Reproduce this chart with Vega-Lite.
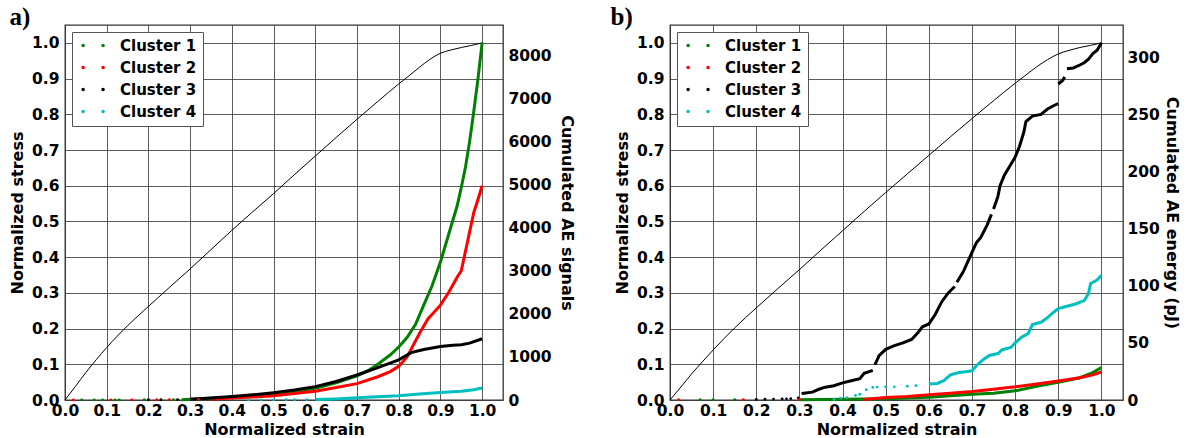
{
  "$schema": "https://vega.github.io/schema/vega-lite/v6.json",
  "padding": {"left": 8, "top": 4, "right": 0, "bottom": 0},
  "background": "white",
  "config": {
    "view": {"stroke": "#333", "strokeWidth": 1.3},
    "axis": {
      "labelFont": "DejaVu Sans", "labelFontWeight": "bold", "labelFontSize": 15.5, "labelColor": "black",
      "titleFont": "DejaVu Sans", "titleFontWeight": "bold", "titleFontSize": 16, "titleColor": "black",
      "ticks": false, "domain": false, "gridColor": "#333", "gridWidth": 0.8, "labelFlush": false, "labelOverlap": false
    },
    "legend": {
      "orient": "top-left", "offset": 7, "padding": 6, "rowPadding": 6, "labelOffset": 27,
      "labelFont": "DejaVu Sans", "labelFontWeight": "bold", "labelFontSize": 15, "labelColor": "black",
      "symbolType": "M-0.59,0a0.25,0.25 0 1,0 0.5,0a0.25,0.25 0 1,0 -0.5,0Z M2.26,0a0.25,0.25 0 1,0 0.5,0a0.25,0.25 0 1,0 -0.5,0Z",
      "symbolSize": 196, "symbolStrokeWidth": 0,
      "strokeColor": "#555", "fillColor": "white", "cornerRadius": 0
    }
  },
  "datasets": {
    "stressA": [
      {"strain": 0, "stress": 0}, {"strain": 0.025, "stress": 0.038}, {"strain": 0.05, "stress": 0.077}, {"strain": 0.075, "stress": 0.113},
      {"strain": 0.1, "stress": 0.147}, {"strain": 0.15, "stress": 0.208}, {"strain": 0.2, "stress": 0.262}, {"strain": 0.25, "stress": 0.315},
      {"strain": 0.3, "stress": 0.367}, {"strain": 0.35, "stress": 0.421}, {"strain": 0.4, "stress": 0.475}, {"strain": 0.45, "stress": 0.527},
      {"strain": 0.5, "stress": 0.578}, {"strain": 0.55, "stress": 0.631}, {"strain": 0.6, "stress": 0.683}, {"strain": 0.65, "stress": 0.735},
      {"strain": 0.7, "stress": 0.786}, {"strain": 0.75, "stress": 0.836}, {"strain": 0.8, "stress": 0.885}, {"strain": 0.825, "stress": 0.908},
      {"strain": 0.85, "stress": 0.932}, {"strain": 0.875, "stress": 0.954}, {"strain": 0.9, "stress": 0.971}, {"strain": 0.925, "stress": 0.98},
      {"strain": 0.95, "stress": 0.987}, {"strain": 0.975, "stress": 0.993}, {"strain": 1.0, "stress": 1.0}
    ],
    "stressB": [
      {"strain": 0, "stress": 0}, {"strain": 0.025, "stress": 0.036}, {"strain": 0.05, "stress": 0.073}, {"strain": 0.075, "stress": 0.107},
      {"strain": 0.1, "stress": 0.14}, {"strain": 0.15, "stress": 0.202}, {"strain": 0.2, "stress": 0.258}, {"strain": 0.25, "stress": 0.312},
      {"strain": 0.3, "stress": 0.365}, {"strain": 0.35, "stress": 0.42}, {"strain": 0.4, "stress": 0.474}, {"strain": 0.45, "stress": 0.528},
      {"strain": 0.5, "stress": 0.581}, {"strain": 0.55, "stress": 0.633}, {"strain": 0.6, "stress": 0.685}, {"strain": 0.65, "stress": 0.737},
      {"strain": 0.7, "stress": 0.788}, {"strain": 0.75, "stress": 0.838}, {"strain": 0.8, "stress": 0.887}, {"strain": 0.825, "stress": 0.91},
      {"strain": 0.85, "stress": 0.933}, {"strain": 0.875, "stress": 0.953}, {"strain": 0.9, "stress": 0.969}, {"strain": 0.925, "stress": 0.979},
      {"strain": 0.95, "stress": 0.987}, {"strain": 0.975, "stress": 0.993}, {"strain": 1.0, "stress": 1.0}
    ],
    "clA": [
      {"strain": 0.28, "value": 5, "cluster": "Cluster 1", "seg": 1}, {"strain": 0.3, "value": 20, "cluster": "Cluster 1", "seg": 1},
      {"strain": 0.35, "value": 40, "cluster": "Cluster 1", "seg": 1}, {"strain": 0.4, "value": 65, "cluster": "Cluster 1", "seg": 1},
      {"strain": 0.45, "value": 100, "cluster": "Cluster 1", "seg": 1}, {"strain": 0.5, "value": 135, "cluster": "Cluster 1", "seg": 1},
      {"strain": 0.55, "value": 190, "cluster": "Cluster 1", "seg": 1}, {"strain": 0.6, "value": 270, "cluster": "Cluster 1", "seg": 1},
      {"strain": 0.65, "value": 400, "cluster": "Cluster 1", "seg": 1}, {"strain": 0.7, "value": 560, "cluster": "Cluster 1", "seg": 1},
      {"strain": 0.73, "value": 700, "cluster": "Cluster 1", "seg": 1}, {"strain": 0.75, "value": 830, "cluster": "Cluster 1", "seg": 1},
      {"strain": 0.78, "value": 1050, "cluster": "Cluster 1", "seg": 1}, {"strain": 0.8, "value": 1230, "cluster": "Cluster 1", "seg": 1},
      {"strain": 0.82, "value": 1450, "cluster": "Cluster 1", "seg": 1}, {"strain": 0.84, "value": 1750, "cluster": "Cluster 1", "seg": 1},
      {"strain": 0.86, "value": 2200, "cluster": "Cluster 1", "seg": 1}, {"strain": 0.88, "value": 2650, "cluster": "Cluster 1", "seg": 1},
      {"strain": 0.9, "value": 3200, "cluster": "Cluster 1", "seg": 1}, {"strain": 0.92, "value": 3850, "cluster": "Cluster 1", "seg": 1},
      {"strain": 0.94, "value": 4500, "cluster": "Cluster 1", "seg": 1}, {"strain": 0.95, "value": 4930, "cluster": "Cluster 1", "seg": 1},
      {"strain": 0.96, "value": 5400, "cluster": "Cluster 1", "seg": 1}, {"strain": 0.97, "value": 6000, "cluster": "Cluster 1", "seg": 1},
      {"strain": 0.98, "value": 6700, "cluster": "Cluster 1", "seg": 1}, {"strain": 0.99, "value": 7450, "cluster": "Cluster 1", "seg": 1},
      {"strain": 1.0, "value": 8290, "cluster": "Cluster 1", "seg": 1},
      {"strain": 0.35, "value": 20, "cluster": "Cluster 2", "seg": 1}, {"strain": 0.4, "value": 45, "cluster": "Cluster 2", "seg": 1},
      {"strain": 0.45, "value": 70, "cluster": "Cluster 2", "seg": 1}, {"strain": 0.5, "value": 100, "cluster": "Cluster 2", "seg": 1},
      {"strain": 0.55, "value": 150, "cluster": "Cluster 2", "seg": 1}, {"strain": 0.6, "value": 205, "cluster": "Cluster 2", "seg": 1},
      {"strain": 0.65, "value": 290, "cluster": "Cluster 2", "seg": 1}, {"strain": 0.7, "value": 380, "cluster": "Cluster 2", "seg": 1},
      {"strain": 0.75, "value": 540, "cluster": "Cluster 2", "seg": 1}, {"strain": 0.78, "value": 660, "cluster": "Cluster 2", "seg": 1},
      {"strain": 0.8, "value": 780, "cluster": "Cluster 2", "seg": 1}, {"strain": 0.82, "value": 1000, "cluster": "Cluster 2", "seg": 1},
      {"strain": 0.85, "value": 1550, "cluster": "Cluster 2", "seg": 1}, {"strain": 0.87, "value": 1880, "cluster": "Cluster 2", "seg": 1},
      {"strain": 0.9, "value": 2200, "cluster": "Cluster 2", "seg": 1}, {"strain": 0.92, "value": 2500, "cluster": "Cluster 2", "seg": 1},
      {"strain": 0.94, "value": 2850, "cluster": "Cluster 2", "seg": 1}, {"strain": 0.95, "value": 3000, "cluster": "Cluster 2", "seg": 1},
      {"strain": 0.96, "value": 3450, "cluster": "Cluster 2", "seg": 1}, {"strain": 0.97, "value": 3900, "cluster": "Cluster 2", "seg": 1},
      {"strain": 0.98, "value": 4350, "cluster": "Cluster 2", "seg": 1}, {"strain": 0.99, "value": 4650, "cluster": "Cluster 2", "seg": 1},
      {"strain": 1.0, "value": 4970, "cluster": "Cluster 2", "seg": 1},
      {"strain": 0.3, "value": 20, "cluster": "Cluster 3", "seg": 1}, {"strain": 0.35, "value": 45, "cluster": "Cluster 3", "seg": 1},
      {"strain": 0.4, "value": 80, "cluster": "Cluster 3", "seg": 1}, {"strain": 0.45, "value": 120, "cluster": "Cluster 3", "seg": 1},
      {"strain": 0.5, "value": 170, "cluster": "Cluster 3", "seg": 1}, {"strain": 0.55, "value": 230, "cluster": "Cluster 3", "seg": 1},
      {"strain": 0.6, "value": 310, "cluster": "Cluster 3", "seg": 1}, {"strain": 0.65, "value": 430, "cluster": "Cluster 3", "seg": 1},
      {"strain": 0.7, "value": 580, "cluster": "Cluster 3", "seg": 1}, {"strain": 0.75, "value": 750, "cluster": "Cluster 3", "seg": 1},
      {"strain": 0.8, "value": 930, "cluster": "Cluster 3", "seg": 1}, {"strain": 0.83, "value": 1100, "cluster": "Cluster 3", "seg": 1},
      {"strain": 0.86, "value": 1170, "cluster": "Cluster 3", "seg": 1}, {"strain": 0.9, "value": 1240, "cluster": "Cluster 3", "seg": 1},
      {"strain": 0.93, "value": 1270, "cluster": "Cluster 3", "seg": 1}, {"strain": 0.95, "value": 1280, "cluster": "Cluster 3", "seg": 1},
      {"strain": 0.97, "value": 1320, "cluster": "Cluster 3", "seg": 1}, {"strain": 1.0, "value": 1420, "cluster": "Cluster 3", "seg": 1},
      {"strain": 0.6, "value": 10, "cluster": "Cluster 4", "seg": 1}, {"strain": 0.65, "value": 25, "cluster": "Cluster 4", "seg": 1},
      {"strain": 0.7, "value": 50, "cluster": "Cluster 4", "seg": 1}, {"strain": 0.75, "value": 75, "cluster": "Cluster 4", "seg": 1},
      {"strain": 0.8, "value": 100, "cluster": "Cluster 4", "seg": 1}, {"strain": 0.85, "value": 140, "cluster": "Cluster 4", "seg": 1},
      {"strain": 0.9, "value": 175, "cluster": "Cluster 4", "seg": 1}, {"strain": 0.95, "value": 205, "cluster": "Cluster 4", "seg": 1},
      {"strain": 0.98, "value": 240, "cluster": "Cluster 4", "seg": 1}, {"strain": 1.0, "value": 280, "cluster": "Cluster 4", "seg": 1}
    ],
    "dotA": [
      {"strain": 0.04, "value": 3, "cluster": "Cluster 1"}, {"strain": 0.07, "value": 3, "cluster": "Cluster 1"}, {"strain": 0.09, "value": 3, "cluster": "Cluster 1"},
      {"strain": 0.12, "value": 4, "cluster": "Cluster 1"}, {"strain": 0.13, "value": 4, "cluster": "Cluster 1"}, {"strain": 0.19, "value": 5, "cluster": "Cluster 1"},
      {"strain": 0.26, "value": 8, "cluster": "Cluster 1"},
      {"strain": 0.02, "value": 2, "cluster": "Cluster 2"}, {"strain": 0.11, "value": 3, "cluster": "Cluster 2"}, {"strain": 0.16, "value": 4, "cluster": "Cluster 2"},
      {"strain": 0.2, "value": 5, "cluster": "Cluster 2"}, {"strain": 0.22, "value": 6, "cluster": "Cluster 2"}, {"strain": 0.25, "value": 8, "cluster": "Cluster 2"},
      {"strain": 0.32, "value": 15, "cluster": "Cluster 2"},
      {"strain": 0.2, "value": 3, "cluster": "Cluster 3"}, {"strain": 0.23, "value": 5, "cluster": "Cluster 3"}, {"strain": 0.27, "value": 10, "cluster": "Cluster 3"},
      {"strain": 0.44, "value": 3, "cluster": "Cluster 4"}, {"strain": 0.47, "value": 3, "cluster": "Cluster 4"}, {"strain": 0.5, "value": 4, "cluster": "Cluster 4"},
      {"strain": 0.53, "value": 5, "cluster": "Cluster 4"}, {"strain": 0.55, "value": 5, "cluster": "Cluster 4"}, {"strain": 0.58, "value": 8, "cluster": "Cluster 4"}
    ],
    "clB": [
      {"strain": 0.3, "value": 0.3, "cluster": "Cluster 1", "seg": 1}, {"strain": 0.4, "value": 0.6, "cluster": "Cluster 1", "seg": 1},
      {"strain": 0.5, "value": 1, "cluster": "Cluster 1", "seg": 1}, {"strain": 0.6, "value": 2.5, "cluster": "Cluster 1", "seg": 1},
      {"strain": 0.7, "value": 5, "cluster": "Cluster 1", "seg": 1}, {"strain": 0.75, "value": 6, "cluster": "Cluster 1", "seg": 1},
      {"strain": 0.8, "value": 8, "cluster": "Cluster 1", "seg": 1}, {"strain": 0.85, "value": 12, "cluster": "Cluster 1", "seg": 1},
      {"strain": 0.9, "value": 15.5, "cluster": "Cluster 1", "seg": 1}, {"strain": 0.95, "value": 19.5, "cluster": "Cluster 1", "seg": 1},
      {"strain": 0.98, "value": 24, "cluster": "Cluster 1", "seg": 1}, {"strain": 1.0, "value": 28.5, "cluster": "Cluster 1", "seg": 1},
      {"strain": 0.45, "value": 0.5, "cluster": "Cluster 2", "seg": 1}, {"strain": 0.48, "value": 1.5, "cluster": "Cluster 2", "seg": 1},
      {"strain": 0.5, "value": 2.2, "cluster": "Cluster 2", "seg": 1}, {"strain": 0.55, "value": 3, "cluster": "Cluster 2", "seg": 1},
      {"strain": 0.6, "value": 4.5, "cluster": "Cluster 2", "seg": 1}, {"strain": 0.65, "value": 6, "cluster": "Cluster 2", "seg": 1},
      {"strain": 0.7, "value": 7.5, "cluster": "Cluster 2", "seg": 1}, {"strain": 0.75, "value": 9.5, "cluster": "Cluster 2", "seg": 1},
      {"strain": 0.8, "value": 11.5, "cluster": "Cluster 2", "seg": 1}, {"strain": 0.85, "value": 14, "cluster": "Cluster 2", "seg": 1},
      {"strain": 0.9, "value": 16.7, "cluster": "Cluster 2", "seg": 1}, {"strain": 0.95, "value": 19.5, "cluster": "Cluster 2", "seg": 1},
      {"strain": 0.98, "value": 22, "cluster": "Cluster 2", "seg": 1}, {"strain": 1.0, "value": 24.5, "cluster": "Cluster 2", "seg": 1},
      {"strain": 0.295, "value": 1.2, "cluster": "Cluster 3", "seg": 1}, {"strain": 0.3, "value": 2.2, "cluster": "Cluster 3", "seg": 1},
      {"strain": 0.305, "value": 5.6, "cluster": "Cluster 3", "seg": 2}, {"strain": 0.33, "value": 6.9, "cluster": "Cluster 3", "seg": 2},
      {"strain": 0.345, "value": 9.4, "cluster": "Cluster 3", "seg": 2}, {"strain": 0.36, "value": 11.2, "cluster": "Cluster 3", "seg": 2},
      {"strain": 0.38, "value": 12.5, "cluster": "Cluster 3", "seg": 2}, {"strain": 0.4, "value": 15, "cluster": "Cluster 3", "seg": 2},
      {"strain": 0.42, "value": 16.9, "cluster": "Cluster 3", "seg": 2}, {"strain": 0.44, "value": 18.7, "cluster": "Cluster 3", "seg": 2},
      {"strain": 0.45, "value": 23.4, "cluster": "Cluster 3", "seg": 2}, {"strain": 0.47, "value": 25.9, "cluster": "Cluster 3", "seg": 2},
      {"strain": 0.475, "value": 31, "cluster": "Cluster 3", "seg": 3}, {"strain": 0.485, "value": 39, "cluster": "Cluster 3", "seg": 3},
      {"strain": 0.5, "value": 44.3, "cluster": "Cluster 3", "seg": 3}, {"strain": 0.52, "value": 47.5, "cluster": "Cluster 3", "seg": 3},
      {"strain": 0.54, "value": 50, "cluster": "Cluster 3", "seg": 3}, {"strain": 0.56, "value": 53, "cluster": "Cluster 3", "seg": 3},
      {"strain": 0.575, "value": 59, "cluster": "Cluster 3", "seg": 3}, {"strain": 0.585, "value": 64, "cluster": "Cluster 3", "seg": 3},
      {"strain": 0.6, "value": 66.5, "cluster": "Cluster 3", "seg": 3}, {"strain": 0.615, "value": 75, "cluster": "Cluster 3", "seg": 3},
      {"strain": 0.63, "value": 86, "cluster": "Cluster 3", "seg": 3}, {"strain": 0.645, "value": 93.7, "cluster": "Cluster 3", "seg": 3},
      {"strain": 0.66, "value": 99.3, "cluster": "Cluster 3", "seg": 3},
      {"strain": 0.665, "value": 103, "cluster": "Cluster 3", "seg": 4}, {"strain": 0.68, "value": 112.4, "cluster": "Cluster 3", "seg": 4},
      {"strain": 0.695, "value": 125, "cluster": "Cluster 3", "seg": 4}, {"strain": 0.71, "value": 137.4, "cluster": "Cluster 3", "seg": 4},
      {"strain": 0.72, "value": 142, "cluster": "Cluster 3", "seg": 4}, {"strain": 0.735, "value": 153, "cluster": "Cluster 3", "seg": 4},
      {"strain": 0.745, "value": 162.4, "cluster": "Cluster 3", "seg": 4},
      {"strain": 0.75, "value": 167, "cluster": "Cluster 3", "seg": 5}, {"strain": 0.76, "value": 178, "cluster": "Cluster 3", "seg": 5},
      {"strain": 0.765, "value": 187.4, "cluster": "Cluster 3", "seg": 5}, {"strain": 0.775, "value": 196.7, "cluster": "Cluster 3", "seg": 5},
      {"strain": 0.785, "value": 203, "cluster": "Cluster 3", "seg": 5}, {"strain": 0.8, "value": 212.4, "cluster": "Cluster 3", "seg": 5},
      {"strain": 0.81, "value": 221.7, "cluster": "Cluster 3", "seg": 5}, {"strain": 0.82, "value": 234, "cluster": "Cluster 3", "seg": 5},
      {"strain": 0.825, "value": 243.6, "cluster": "Cluster 3", "seg": 5}, {"strain": 0.84, "value": 248.3, "cluster": "Cluster 3", "seg": 5},
      {"strain": 0.86, "value": 249.8, "cluster": "Cluster 3", "seg": 5}, {"strain": 0.875, "value": 254.5, "cluster": "Cluster 3", "seg": 5},
      {"strain": 0.89, "value": 257.6, "cluster": "Cluster 3", "seg": 5}, {"strain": 0.9, "value": 259.2, "cluster": "Cluster 3", "seg": 5},
      {"strain": 0.9, "value": 276.4, "cluster": "Cluster 3", "seg": 6}, {"strain": 0.91, "value": 279.5, "cluster": "Cluster 3", "seg": 6},
      {"strain": 0.915, "value": 282.6, "cluster": "Cluster 3", "seg": 6},
      {"strain": 0.92, "value": 289.8, "cluster": "Cluster 3", "seg": 7}, {"strain": 0.935, "value": 290.4, "cluster": "Cluster 3", "seg": 7},
      {"strain": 0.95, "value": 293, "cluster": "Cluster 3", "seg": 7}, {"strain": 0.96, "value": 295, "cluster": "Cluster 3", "seg": 7},
      {"strain": 0.97, "value": 298, "cluster": "Cluster 3", "seg": 7}, {"strain": 0.98, "value": 303, "cluster": "Cluster 3", "seg": 7},
      {"strain": 0.99, "value": 306, "cluster": "Cluster 3", "seg": 7}, {"strain": 1.0, "value": 312.3, "cluster": "Cluster 3", "seg": 7},
      {"strain": 0.6, "value": 14, "cluster": "Cluster 4", "seg": 1}, {"strain": 0.62, "value": 14.5, "cluster": "Cluster 4", "seg": 1},
      {"strain": 0.635, "value": 17, "cluster": "Cluster 4", "seg": 1}, {"strain": 0.65, "value": 22, "cluster": "Cluster 4", "seg": 1},
      {"strain": 0.67, "value": 24, "cluster": "Cluster 4", "seg": 1}, {"strain": 0.69, "value": 25, "cluster": "Cluster 4", "seg": 1},
      {"strain": 0.7, "value": 25.6, "cluster": "Cluster 4", "seg": 1}, {"strain": 0.71, "value": 30, "cluster": "Cluster 4", "seg": 1},
      {"strain": 0.725, "value": 35, "cluster": "Cluster 4", "seg": 1}, {"strain": 0.74, "value": 39, "cluster": "Cluster 4", "seg": 1},
      {"strain": 0.76, "value": 40.6, "cluster": "Cluster 4", "seg": 1}, {"strain": 0.77, "value": 44, "cluster": "Cluster 4", "seg": 1},
      {"strain": 0.79, "value": 46, "cluster": "Cluster 4", "seg": 1}, {"strain": 0.8, "value": 50, "cluster": "Cluster 4", "seg": 1},
      {"strain": 0.815, "value": 55, "cluster": "Cluster 4", "seg": 1}, {"strain": 0.83, "value": 58, "cluster": "Cluster 4", "seg": 1},
      {"strain": 0.84, "value": 66, "cluster": "Cluster 4", "seg": 1}, {"strain": 0.86, "value": 68, "cluster": "Cluster 4", "seg": 1},
      {"strain": 0.875, "value": 72, "cluster": "Cluster 4", "seg": 1}, {"strain": 0.89, "value": 77, "cluster": "Cluster 4", "seg": 1},
      {"strain": 0.9, "value": 80, "cluster": "Cluster 4", "seg": 1}, {"strain": 0.92, "value": 82, "cluster": "Cluster 4", "seg": 1},
      {"strain": 0.94, "value": 84, "cluster": "Cluster 4", "seg": 1}, {"strain": 0.96, "value": 87, "cluster": "Cluster 4", "seg": 1},
      {"strain": 0.97, "value": 93, "cluster": "Cluster 4", "seg": 1}, {"strain": 0.975, "value": 102, "cluster": "Cluster 4", "seg": 1},
      {"strain": 0.99, "value": 105, "cluster": "Cluster 4", "seg": 1}, {"strain": 1.0, "value": 109, "cluster": "Cluster 4", "seg": 1}
    ],
    "dotB": [
      {"strain": 0.07, "value": 0.3, "cluster": "Cluster 1"}, {"strain": 0.1, "value": 0.3, "cluster": "Cluster 1"}, {"strain": 0.15, "value": 0.4, "cluster": "Cluster 1"},
      {"strain": 0.02, "value": 0.3, "cluster": "Cluster 2"}, {"strain": 0.17, "value": 0.4, "cluster": "Cluster 2"}, {"strain": 0.3, "value": 0.5, "cluster": "Cluster 2"},
      {"strain": 0.2, "value": 0.5, "cluster": "Cluster 3"}, {"strain": 0.22, "value": 0.7, "cluster": "Cluster 3"}, {"strain": 0.24, "value": 0.8, "cluster": "Cluster 3"},
      {"strain": 0.26, "value": 1, "cluster": "Cluster 3"}, {"strain": 0.27, "value": 1, "cluster": "Cluster 3"}, {"strain": 0.28, "value": 1.2, "cluster": "Cluster 3"},
      {"strain": 0.38, "value": 0.5, "cluster": "Cluster 4"}, {"strain": 0.395, "value": 1.5, "cluster": "Cluster 4"}, {"strain": 0.41, "value": 2, "cluster": "Cluster 4"},
      {"strain": 0.43, "value": 4, "cluster": "Cluster 4"}, {"strain": 0.44, "value": 5, "cluster": "Cluster 4"}, {"strain": 0.455, "value": 9, "cluster": "Cluster 4"},
      {"strain": 0.47, "value": 11, "cluster": "Cluster 4"}, {"strain": 0.48, "value": 11.3, "cluster": "Cluster 4"}, {"strain": 0.5, "value": 11.5, "cluster": "Cluster 4"},
      {"strain": 0.52, "value": 11.5, "cluster": "Cluster 4"}, {"strain": 0.55, "value": 12, "cluster": "Cluster 4"}, {"strain": 0.57, "value": 12.5, "cluster": "Cluster 4"}
    ]
  },
  "spacing": 34,
  "resolve": {"scale": {"color": "independent", "stroke": "independent", "y": "independent", "x": "independent"}, "legend": {"color": "independent", "stroke": "independent"}},
  "hconcat": [
    {
      "width": 438, "height": 375,
      "title": {"text": "a)", "anchor": "start", "frame": "bounds", "font": "Liberation Serif", "fontSize": 25, "fontWeight": "bold", "baseline": "alphabetic", "offset": -25, "color": "black"},
      "encoding": {
        "x": {"field": "strain", "type": "quantitative", "scale": {"domain": [0, 1.05], "nice": false},
          "axis": {"title": "Normalized strain", "values": [0, 0.1, 0.2, 0.3, 0.4, 0.5, 0.6, 0.7, 0.8, 0.9, 1.0], "format": ".1f", "labelPadding": 3, "titlePadding": 3}}
      },
      "layer": [
        {
          "data": {"name": "stressA"},
          "mark": {"type": "line", "color": "black", "strokeWidth": 1, "interpolate": "monotone"},
          "encoding": {
            "y": {"field": "stress", "type": "quantitative", "scale": {"domain": [0, 1.05], "nice": false},
              "axis": {"title": "Normalized stress", "values": [0, 0.1, 0.2, 0.3, 0.4, 0.5, 0.6, 0.7, 0.8, 0.9, 1.0], "format": ".1f", "labelPadding": 6, "titlePadding": 6}}
          }
        },
        {
          "encoding": {
            "y": {"field": "value", "type": "quantitative", "scale": {"domain": [0, 8700], "nice": false},
              "axis": {"orient": "right", "title": "Cumulated AE signals", "values": [0, 1000, 2000, 3000, 4000, 5000, 6000, 7000, 8000], "format": "d", "labelPadding": 5, "titlePadding": 7, "gridColor": "#999"}}
          },
          "layer": [
            {
              "data": {"name": "clA"},
              "mark": {"type": "line", "strokeWidth": 3},
              "encoding": {
                "stroke": {"field": "cluster", "type": "nominal", "scale": {"domain": ["Cluster 4", "Cluster 3", "Cluster 2", "Cluster 1"], "range": ["#00bfbf", "#000000", "#ff0000", "#008000"]}, "legend": null},
                "detail": {"field": "seg", "type": "nominal"}
              }
            },
            {
              "data": {"name": "dotA"},
              "mark": {"type": "point", "filled": true, "size": 8, "opacity": 1},
              "encoding": {
                "color": {"field": "cluster", "type": "nominal", "scale": {"domain": ["Cluster 1", "Cluster 2", "Cluster 3", "Cluster 4"], "range": ["#008000", "#ff0000", "#000000", "#00bfbf"]}, "legend": {"title": null}}
              }
            }
          ]
        }
      ],
      "resolve": {"scale": {"y": "independent"}}
    },
    {
      "width": 453, "height": 375,
      "title": {"text": "b)", "anchor": "start", "frame": "bounds", "font": "Liberation Serif", "fontSize": 25, "fontWeight": "bold", "baseline": "alphabetic", "offset": -25, "color": "black", "dx": -4},
      "encoding": {
        "x": {"field": "strain", "type": "quantitative", "scale": {"domain": [0, 1.05], "nice": false},
          "axis": {"title": "Normalized strain", "values": [0, 0.1, 0.2, 0.3, 0.4, 0.5, 0.6, 0.7, 0.8, 0.9, 1.0], "format": ".1f", "labelPadding": 3, "titlePadding": 3}}
      },
      "layer": [
        {
          "data": {"name": "stressB"},
          "mark": {"type": "line", "color": "black", "strokeWidth": 1, "interpolate": "monotone"},
          "encoding": {
            "y": {"field": "stress", "type": "quantitative", "scale": {"domain": [0, 1.05], "nice": false},
              "axis": {"title": "Normalized stress", "values": [0, 0.1, 0.2, 0.3, 0.4, 0.5, 0.6, 0.7, 0.8, 0.9, 1.0], "format": ".1f", "labelPadding": 6, "titlePadding": 6}}
          }
        },
        {
          "encoding": {
            "y": {"field": "value", "type": "quantitative", "scale": {"domain": [0, 328], "nice": false},
              "axis": {"orient": "right", "title": "Cumulated AE energy (pJ)", "values": [0, 50, 100, 150, 200, 250, 300], "format": "d", "labelPadding": 4, "titlePadding": 4, "gridColor": "#999"}}
          },
          "layer": [
            {
              "data": {"name": "clB"},
              "mark": {"type": "line", "strokeWidth": 3},
              "encoding": {
                "stroke": {"field": "cluster", "type": "nominal", "scale": {"domain": ["Cluster 4", "Cluster 3", "Cluster 2", "Cluster 1"], "range": ["#00bfbf", "#000000", "#ff0000", "#008000"]}, "legend": null},
                "detail": {"field": "seg", "type": "nominal"}
              }
            },
            {
              "data": {"name": "dotB"},
              "mark": {"type": "point", "filled": true, "size": 8, "opacity": 1},
              "encoding": {
                "color": {"field": "cluster", "type": "nominal", "scale": {"domain": ["Cluster 1", "Cluster 2", "Cluster 3", "Cluster 4"], "range": ["#008000", "#ff0000", "#000000", "#00bfbf"]}, "legend": {"title": null}}
              }
            }
          ]
        }
      ],
      "resolve": {"scale": {"y": "independent"}}
    }
  ]
}
